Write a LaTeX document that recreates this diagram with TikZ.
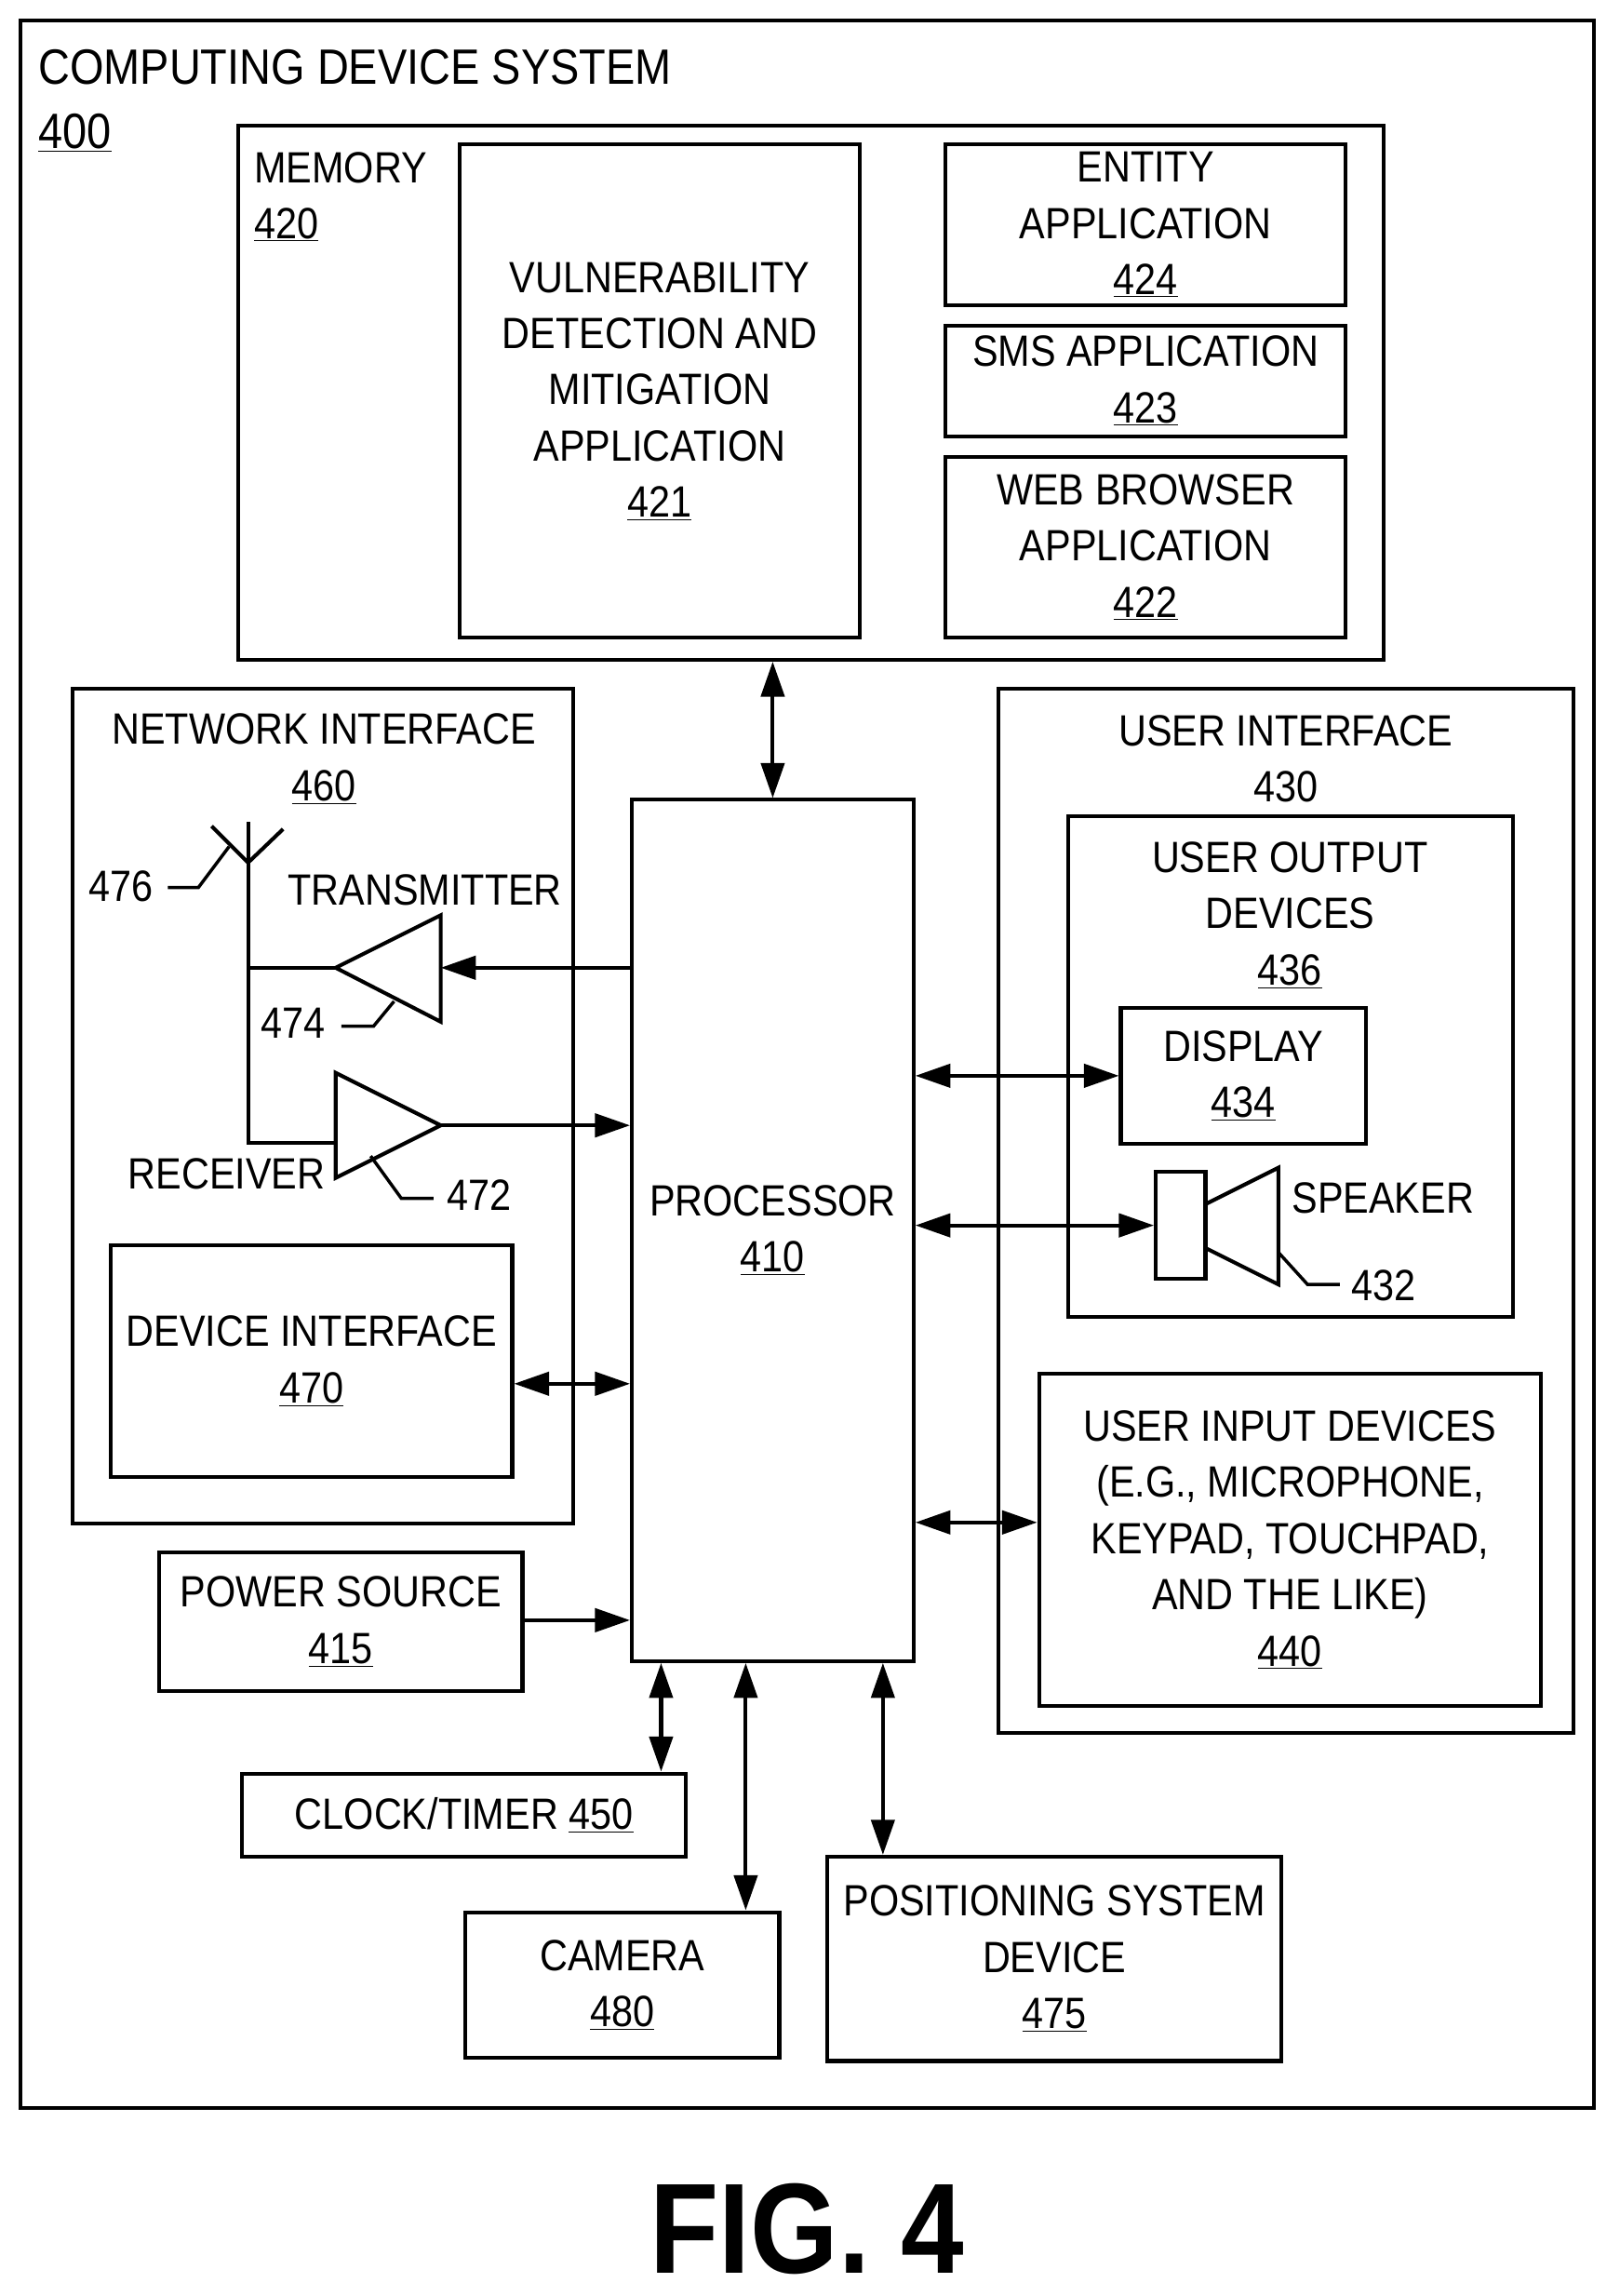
\documentclass[tikz,border=0pt]{standalone}
\usepackage{fontspec}
\setmainfont{Liberation Sans}[FakeStretch=0.88]
\usetikzlibrary{arrows.meta,positioning}

\begin{document}
\begin{tikzpicture}[x=1pt, y=-1pt, line width=2.6pt,
    >={Triangle[length=24pt,width=16pt]},
    font=\fontsize{30}{38.5}\selectfont,
    box/.style={draw, inner sep=0pt},
    txt/.style={align=center, inner sep=0pt},
    title/.style={txt, anchor=west, font=\fontsize{34}{40}\selectfont},
    lead/.style={line width=2.2pt}]
    \useasboundingbox (0,0) rectangle (1110,1573);

    % Outer frame
    \draw (14,14) rectangle (1092,1444);
    \node[title] (sys) at (25,46) {COMPUTING DEVICE SYSTEM};
    \node[title] (sysnum) at (25,91) {\underline{400}};

    % Memory
    \node[box, minimum width=785pt, minimum height=366pt] (mem) at (555.5,269) {};
    \node[txt, anchor=west] at (173,115) {MEMORY};
    \node[txt, anchor=west] at (173,154) {\underline{420}};
    \node[box, minimum width=274pt, minimum height=338pt, txt] (vdm) at (452,268)
        {VULNERABILITY\\DETECTION AND\\MITIGATION\\APPLICATION\\\underline{421}};
    \node[box, minimum width=274pt, minimum height=110pt, txt] (ent) at (785,154)
        {ENTITY\\APPLICATION\\\underline{424}};
    \node[box, minimum width=274pt, minimum height=76pt, txt] (sms) at (785,261)
        {SMS APPLICATION\\\underline{423}};
    \node[box, minimum width=274pt, minimum height=124pt, txt] (web) at (785,375)
        {WEB BROWSER\\APPLICATION\\\underline{422}};

    % Processor
    \node[box, minimum width=193pt, minimum height=590pt, txt] (proc) at (529.5,843)
        {PROCESSOR\\\underline{410}};

    % Network interface
    \node[box, minimum width=343pt, minimum height=572pt] (net) at (221.5,758) {};
    \node[txt] at (222,520) {NETWORK INTERFACE\\\underline{460}};
    \node[box, minimum width=275pt, minimum height=159pt, txt] (dev) at (213.5,932.5)
        {DEVICE INTERFACE\\\underline{470}};
    % transmitter / receiver
    \coordinate (txtip) at (230,663);
    \coordinate (txbase) at (302,663);
    \coordinate (rxtip) at (302,771);
    \draw (txtip) -- (302,627) -- (302,700) -- cycle;
    \draw (230,735) -- (rxtip) -- (230,807) -- cycle;
    \draw (170,563) -- (170,783) -- (230,783);
    \draw (170,663) -- (txtip);
    \draw (145,566) -- (170,591) -- (194,568);
    \draw[->] (proc.west |- txbase) -- (txbase);
    \draw[->] (rxtip) -- (proc.west |- rxtip);
    \node[txt, anchor=west] (txlab) at (196,610) {TRANSMITTER};
    \node[txt, anchor=east] (rxlab) at (224,804) {RECEIVER};
    \node[txt, anchor=east] (n476) at (106,607) {476};
    \draw[lead] (115,608) -- (136,608) -- (157,580);
    \node[txt, anchor=east] (n474) at (224,701) {474};
    \draw[lead] (234,703) -- (256,703) -- (270,686);
    \node[txt, anchor=west] (n472) at (305,819) {472};
    \draw[lead] (254,792) -- (275,821) -- (297,821);

    % Power source, clock, camera, positioning
    \node[box, minimum width=249pt, minimum height=95pt, txt] (pow) at (233.5,1111)
        {POWER SOURCE\\\underline{415}};
    \node[box, minimum width=304pt, minimum height=57pt, txt] (clk) at (318,1243.5)
        {CLOCK/TIMER \underline{450}};
    \node[box, minimum width=215pt, minimum height=100pt, txt] (cam) at (426.5,1360)
        {CAMERA\\\underline{480}};
    \node[box, minimum width=311pt, minimum height=140pt, txt] (pos) at (722.5,1342)
        {POSITIONING SYSTEM\\DEVICE\\\underline{475}};

    % User interface
    \node[box, minimum width=394pt, minimum height=715pt] (ui) at (881,829.5) {};
    \node[txt] at (881,520) {USER INTERFACE\\430};
    \node[box, minimum width=305pt, minimum height=343pt] (uod) at (884.5,730.5) {};
    \node[txt] at (884,627) {USER OUTPUT\\DEVICES\\\underline{436}};
    \node[box, minimum width=168pt, minimum height=93pt, txt] (disp) at (852,737)
        {DISPLAY\\\underline{434}};
    \node[box, minimum width=34pt, minimum height=73pt] (spk) at (809,839.5) {};
    \draw (826,825) -- (876,800) -- (876,880) -- (826,855);
    \node[txt, anchor=west] (spklab) at (884,821) {SPEAKER};
    \node[txt, anchor=west] (n432) at (925,881) {432};
    \draw[lead] (876,858) -- (896,880) -- (918,880);
    \node[box, minimum width=344pt, minimum height=228pt, txt] (uid) at (884,1055)
        {USER INPUT DEVICES\\(E.G., MICROPHONE,\\KEYPAD, TOUCHPAD,\\AND THE LIKE)\\\underline{440}};

    % Connections
    \draw[<->] (mem.south -| proc) -- (proc.north);
    \draw[<->] (dev.east |- 0,948) -- (proc.west |- 0,948);
    \draw[->] (pow.east |- 0,1110) -- (proc.west |- 0,1110);
    \draw[<->] (proc.east |- disp) -- (disp.west);
    \draw[<->] (proc.east |- spk) -- (spk.west);
    \draw[<->] (proc.east |- 0,1043) -- (uid.west |- 0,1043);
    \draw[<->] (proc.south -| 453,0) -- (clk.north -| 453,0);
    \draw[<->] (proc.south -| 511,0) -- (cam.north -| 511,0);
    \draw[<->] (proc.south -| 605,0) -- (pos.north -| 605,0);

    % Caption
    \node[txt, font=\fontsize{88}{96}\selectfont\bfseries] (fig) at (553,1527) {FIG. 4};
\end{tikzpicture}
\end{document}
